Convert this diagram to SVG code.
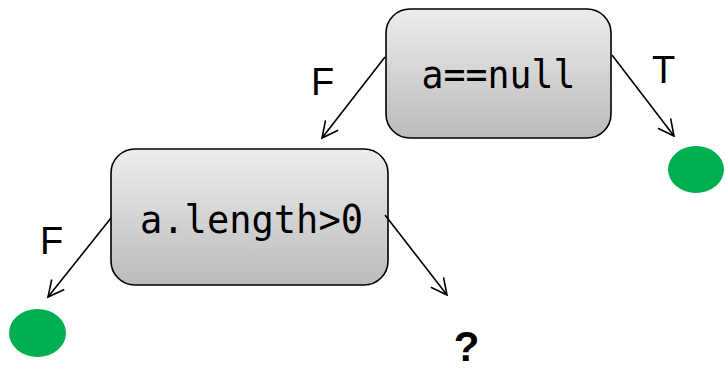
<svg xmlns="http://www.w3.org/2000/svg" width="725" height="370" viewBox="0 0 725 370">
  <style>
    .box { fill: url(#boxFill); stroke: #000; stroke-width: 1.6; }
    .code { font-family: "DejaVu Sans Mono", "Liberation Mono", monospace; font-size: 39px; fill: #000; text-anchor: middle; }
    .lbl { font-family: "Liberation Sans", Arial, sans-serif; font-size: 38px; fill: #000; }
    .leaf { fill: #00B050; }
    .edge { stroke: #000; stroke-width: 1.6; fill: none; marker-end: url(#openArrow); }
  </style>
  <defs>
    <linearGradient id="boxFill" x1="0" y1="0" x2="0" y2="1">
      <stop offset="0" stop-color="#EDEDED"/>
      <stop offset="1" stop-color="#BBBBBB"/>
    </linearGradient>
    <marker id="openArrow" viewBox="0 0 18 18" refX="16.5" refY="9" markerWidth="18" markerHeight="18" markerUnits="userSpaceOnUse" orient="auto">
      <path d="M0.5,1 L16.5,9 L0.5,17" fill="none" stroke="#000" stroke-width="1.6"/>
    </marker>
  </defs>

  <!-- decision nodes -->
  <g id="node-null">
    <rect class="box" x="386" y="9" width="225" height="129" rx="24"/>
    <text class="code" x="498.5" y="88" textLength="154" lengthAdjust="spacingAndGlyphs">a==null</text>
  </g>
  <g id="node-length">
    <rect class="box" x="111" y="149" width="277" height="136" rx="24"/>
    <text class="code" x="251.5" y="233" textLength="223" lengthAdjust="spacingAndGlyphs">a.length&gt;0</text>
  </g>

  <!-- leaves -->
  <g id="leaf-true">
    <ellipse class="leaf" cx="696" cy="169.5" rx="28" ry="23.5"/>
  </g>
  <g id="leaf-false">
    <ellipse class="leaf" cx="37.5" cy="333" rx="28.5" ry="24"/>
  </g>
  <g id="leaf-unknown">
    <text x="466.5" y="361" font-family="Liberation Sans, Arial, sans-serif" font-size="42" font-weight="bold" text-anchor="middle">?</text>
  </g>

  <!-- branches -->
  <g id="connectors">
    <line class="edge" x1="385" y1="57" x2="322" y2="138"/>
    <line class="edge" x1="612" y1="55" x2="674" y2="136"/>
    <line class="edge" x1="111" y1="218" x2="48" y2="297"/>
    <line class="edge" x1="385" y1="215" x2="447" y2="295"/>
  </g>

  <!-- branch labels -->
  <g id="labels">
    <text class="lbl" x="311" y="95">F</text>
    <text class="lbl" x="652" y="83">T</text>
    <text class="lbl" x="40" y="254">F</text>
  </g>
</svg>
